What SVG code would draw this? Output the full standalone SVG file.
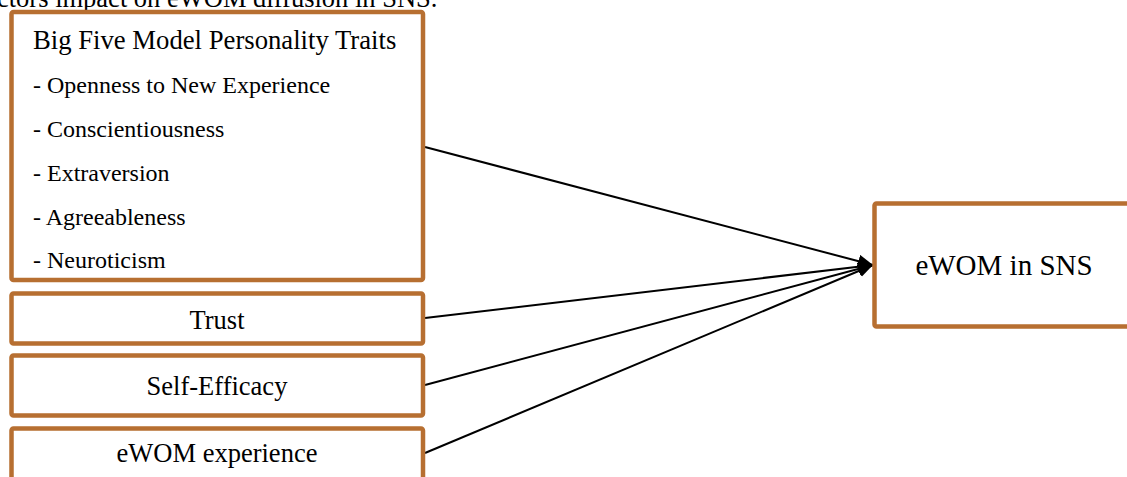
<svg xmlns="http://www.w3.org/2000/svg" width="1127" height="477" viewBox="0 0 1127 477">
<style>
.box{fill:#ffffff;stroke:#b76f31;stroke-width:4.5}
.t{font-family:"Liberation Serif","Times New Roman",serif;fill:#000}
.edge{stroke:#000;stroke-width:2;fill:none}
</style>
<defs>
<marker id="ah" markerUnits="userSpaceOnUse" markerWidth="16" markerHeight="14" refX="15" refY="6.5" orient="auto">
<path d="M0,0 L15,6.5 L0,13 z" fill="#000"/>
</marker>
</defs>
<rect width="1127" height="477" fill="#fff"/>
<text class="t" x="-3" y="7" font-size="26.5">ctors impact on eWOM diffusion in SNS.</text>
<g id="connectors">
<line class="edge" x1="425" y1="147" x2="873" y2="265" marker-end="url(#ah)"/>
<line class="edge" x1="425" y1="318" x2="873" y2="265" marker-end="url(#ah)"/>
<line class="edge" x1="425" y1="385" x2="873" y2="265" marker-end="url(#ah)"/>
<line class="edge" x1="425" y1="453" x2="873" y2="265" marker-end="url(#ah)"/>
</g>
<g id="node-bigfive">
<rect class="box" x="11.5" y="12" width="411.5" height="268" rx="2"/>
<text class="t" x="33" y="49" font-size="26.7">Big Five Model Personality Traits</text>
<text class="t" x="33" y="93" font-size="24">- Openness to New Experience</text>
<text class="t" x="33" y="137" font-size="24">- Conscientiousness</text>
<text class="t" x="33" y="181" font-size="24">- Extraversion</text>
<text class="t" x="33" y="225" font-size="24">- Agreeableness</text>
<text class="t" x="33" y="268" font-size="24">- Neuroticism</text>
</g>
<g id="node-trust">
<rect class="box" x="11.5" y="293.5" width="411.5" height="50" rx="2"/>
<text class="t" x="217" y="329" font-size="26.5" text-anchor="middle">Trust</text>
</g>
<g id="node-selfefficacy">
<rect class="box" x="11.5" y="355.5" width="411.5" height="60" rx="2"/>
<text class="t" x="217" y="395" font-size="26.5" text-anchor="middle">Self-Efficacy</text>
</g>
<g id="node-ewomexp">
<rect class="box" x="11.5" y="428.5" width="411.5" height="70" rx="2"/>
<text class="t" x="217" y="462" font-size="26.5" text-anchor="middle">eWOM experience</text>
</g>
<g id="node-ewomsns">
<rect class="box" x="874.5" y="203.5" width="270" height="123" rx="2"/>
<text class="t" x="1004" y="275" font-size="29" text-anchor="middle">eWOM in SNS</text>
</g>
</svg>
